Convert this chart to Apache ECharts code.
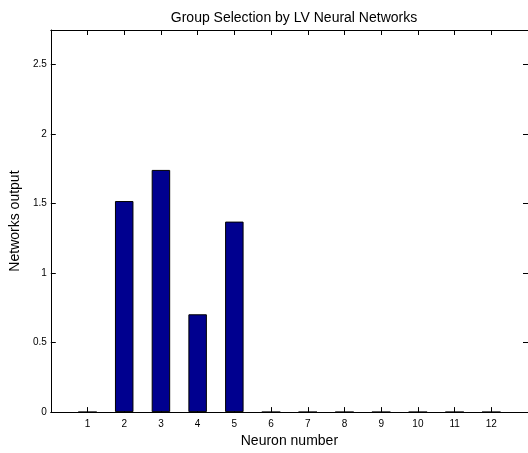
<!DOCTYPE html>
<html>
<head>
<meta charset="utf-8">
<script src="https://cdn.jsdelivr.net/npm/echarts@6/dist/echarts.min.js"></script>
<style>html,body{margin:0;padding:0;background:#fff;}#c{width:528px;height:453px;}</style>
</head>
<body>
<div id="c"></div>
<script>
const neurons = [1, 2, 3, 4, 5, 6, 7, 8, 9, 10, 11, 12];
const outputs = [0, 1.519, 1.743, 0.704, 1.371, 0, 0, 0, 0, 0, 0, 0];
const yTicks = [0, 0.5, 1, 1.5, 2, 2.5];

const FONT = "'Liberation Sans', Arial, Helvetica, sans-serif";
const chart = echarts.init(document.getElementById('c'), null, {renderer: 'canvas'});
const axisLine = {show: true, onZero: false, lineStyle: {color: '#000', width: 1}};
const axisTickIn = {show: true, inside: true, length: 5, lineStyle: {color: '#000', width: 1}};

chart.setOption({
  animation: false,
  backgroundColor: '#fff',
  title: {
    text: 'Group Selection by LV Neural Networks',
    left: 289, top: 6, textAlign: 'center',
    textStyle: {fontFamily: FONT, fontSize: 14, fontWeight: 'normal', color: '#000'}
  },
  grid: {left: 49, top: 30, width: 481, height: 388.5, containLabel: false},
  xAxis: [{
    type: 'value', min: 0, max: 13, interval: 1, position: 'bottom',
    name: 'Neuron number', nameLocation: 'middle', nameGap: 18,
    nameTextStyle: {fontFamily: FONT, fontSize: 14, color: '#000'},
    axisLine: axisLine, axisTick: axisTickIn, splitLine: {show: false},
    axisLabel: {fontFamily: FONT, fontSize: 10, color: '#000', margin: 7,
      showMinLabel: false, showMaxLabel: false,
      formatter: v => neurons.includes(v) ? String(v) : ''}
  }, {
    type: 'value', min: 0, max: 13, interval: 1, position: 'top',
    axisLine: axisLine, axisTick: axisTickIn, splitLine: {show: false},
    axisLabel: {show: false}
  }],
  yAxis: [{
    type: 'value', min: 0, max: 2.75, interval: 0.5, position: 'left',
    name: 'Networks output', nameLocation: 'middle', nameGap: 22,
    nameTextStyle: {fontFamily: FONT, fontSize: 14, color: '#000'},
    axisLine: axisLine, axisTick: axisTickIn, splitLine: {show: false},
    axisLabel: {fontFamily: FONT, fontSize: 10, color: '#000', margin: 4,
      showMaxLabel: false,
      formatter: v => yTicks.includes(v) ? String(v) : ''}
  }, {
    type: 'value', min: 0, max: 2.75, interval: 0.5, position: 'right',
    axisLine: axisLine, axisTick: axisTickIn, splitLine: {show: false},
    axisLabel: {show: false}
  }],
  series: [{
    type: 'bar',
    xAxisIndex: 0, yAxisIndex: 0,
    data: neurons.map((n, i) => [n, outputs[i]]),
    barWidth: 18.5,
    itemStyle: {color: '#00008F', borderColor: '#000', borderWidth: 1}
  }]
});
</script>
</body>
</html>
